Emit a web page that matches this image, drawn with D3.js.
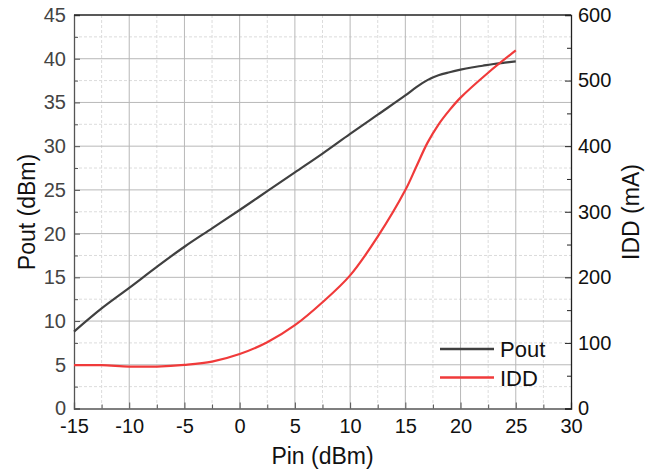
<!DOCTYPE html>
<html><head><meta charset="utf-8">
<script src="https://cdn.jsdelivr.net/npm/d3@7"></script>
<style>body{margin:0;background:#fff}svg{display:block}text{font-family:"Liberation Sans",Arial,sans-serif}</style>
</head><body><svg id="c" width="656" height="472"></svg>
<script>
const poutX = [-15,-12.5,-10,-7.5,-5,-2.5,0,2.5,5,7.5,10,12.5,15,16,17,18,19,20,21,22,23,24,25];
const poutY = [8.8,11.45,13.8,16.2,18.5,20.6,22.7,24.85,27.0,29.15,31.4,33.6,35.8,36.75,37.55,38.1,38.45,38.75,39.0,39.2,39.4,39.55,39.7];
const iddX = [-15,-12.5,-10,-7.5,-5,-2.5,0,2.5,5,7.5,10,12.5,15,16,17,18,19,20,22.5,25];
const iddY = [66,66,64,64,66.5,71.5,83,101,127,162,203,262,333,369,405,433,455,474,512,546];
const xTicks = [-15,-10,-5,0,5,10,15,20,25,30];
const yLeftTicks = [0,5,10,15,20,25,30,35,40,45];
const yRightTicks = [0,100,200,300,400,500,600];
const seriesNames = ["Pout","IDD"];
const seriesColors = ["#404040","#f03a3a"];

const svg = d3.select("#c");
const L=74, R=571, T=15, B=408.5;
const x = d3.scaleLinear().domain([-15,30]).range([L,R]);
const yl = d3.scaleLinear().domain([0,45]).range([B,T]);
const yr = d3.scaleLinear().domain([0,600]).range([B,T]);
const font = '"Liberation Sans",Arial,sans-serif';
const fmt = d => String(d);

// minor grid
const g = svg.append("g");
d3.range(-12.5,30,5).forEach(v=>g.append("line").attr("x1",x(v)).attr("x2",x(v)).attr("y1",T).attr("y2",B)
  .attr("stroke","#dcdcdc").attr("stroke-dasharray","3,2").attr("stroke-width",1));
d3.range(2.5,45,5).forEach(v=>g.append("line").attr("y1",yl(v)).attr("y2",yl(v)).attr("x1",L).attr("x2",R)
  .attr("stroke","#dcdcdc").attr("stroke-dasharray","3,2").attr("stroke-width",1));
// major grid
xTicks.slice(1,-1).forEach(v=>g.append("line").attr("x1",x(v)).attr("x2",x(v)).attr("y1",T).attr("y2",B)
  .attr("stroke","#b8b8b8").attr("stroke-width",1));
yLeftTicks.slice(1,-1).forEach(v=>g.append("line").attr("y1",yl(v)).attr("y2",yl(v)).attr("x1",L).attr("x2",R)
  .attr("stroke","#b8b8b8").attr("stroke-width",1));

// axes
const ax = svg.append("g").attr("transform",`translate(0,${B})`)
  .call(d3.axisBottom(x).tickValues(xTicks).tickSize(-6).tickPadding(10).tickFormat(fmt));
ax.selectAll(".tick text").attr("font-size",20).attr("fill","#111").attr("font-family",font);
ax.selectAll(".tick line").attr("stroke","#555");
ax.select(".domain").attr("stroke","#555").attr("stroke-width",1.3);
const axm = svg.append("g").attr("transform",`translate(0,${B})`)
  .call(d3.axisBottom(x).tickValues(d3.range(-12.5,30,5)).tickSize(-4).tickFormat(""));
axm.select(".domain").remove(); axm.selectAll(".tick line").attr("stroke","#555");

const ayl = svg.append("g").attr("transform",`translate(${L},0)`)
  .call(d3.axisLeft(yl).tickValues(yLeftTicks).tickSize(-6).tickPadding(8).tickFormat(fmt));
ayl.selectAll(".tick text").attr("font-size",20).attr("fill","#444").attr("font-family",font);
ayl.selectAll(".tick line").attr("stroke","#555");
ayl.select(".domain").attr("stroke","#555").attr("stroke-width",1.3);
const aylm = svg.append("g").attr("transform",`translate(${L},0)`)
  .call(d3.axisLeft(yl).tickValues(d3.range(2.5,45,5)).tickSize(-4).tickFormat(""));
aylm.select(".domain").remove(); aylm.selectAll(".tick line").attr("stroke","#555");

const ayr = svg.append("g").attr("transform",`translate(${R},0)`)
  .call(d3.axisRight(yr).tickValues(yRightTicks).tickSize(-6).tickPadding(7).tickFormat(fmt));
ayr.selectAll(".tick text").attr("font-size",20).attr("fill","#111").attr("font-family",font);
ayr.selectAll(".tick line").attr("stroke","#222");
ayr.select(".domain").attr("stroke","#222").attr("stroke-width",1.3);
const ayrm = svg.append("g").attr("transform",`translate(${R},0)`)
  .call(d3.axisRight(yr).tickValues(d3.range(50,600,100)).tickSize(-4).tickFormat(""));
ayrm.select(".domain").remove(); ayrm.selectAll(".tick line").attr("stroke","#222");

// top border
svg.append("line").attr("x1",L).attr("x2",R).attr("y1",T).attr("y2",T).attr("stroke","#222").attr("stroke-width",1.3);

// lines
const line = (xs,ys,sc)=>d3.line().curve(d3.curveCatmullRom.alpha(0.5)).x((d,i)=>x(xs[i])).y(d=>sc(d))(ys);
svg.append("path").attr("d",line(poutX,poutY,yl)).attr("fill","none").attr("stroke",seriesColors[0]).attr("stroke-width",2.2);
svg.append("path").attr("d",line(iddX,iddY,yr)).attr("fill","none").attr("stroke",seriesColors[1]).attr("stroke-width",2.2);

// titles
svg.append("text").attr("x",(L+R)/2).attr("y",464).attr("text-anchor","middle").attr("font-size",23).attr("fill","#111").text("Pin (dBm)");
svg.append("text").attr("transform","translate(35,212) rotate(-90)").attr("text-anchor","middle").attr("font-size",23).attr("fill","#111").text("Pout (dBm)");
svg.append("text").attr("transform","translate(639,212) rotate(-90)").attr("text-anchor","middle").attr("font-size",23).attr("fill","#111").text("IDD (mA)");

// legend
const lg = svg.append("g");
[349,377.5].forEach((yy,i)=>{
  lg.append("line").attr("x1",440).attr("x2",494).attr("y1",yy).attr("y2",yy).attr("stroke",seriesColors[i]).attr("stroke-width",2.4);
  lg.append("text").attr("x",500).attr("y",yy+8).attr("font-size",22).attr("fill","#111").text(seriesNames[i]);
});
</script></body></html>
